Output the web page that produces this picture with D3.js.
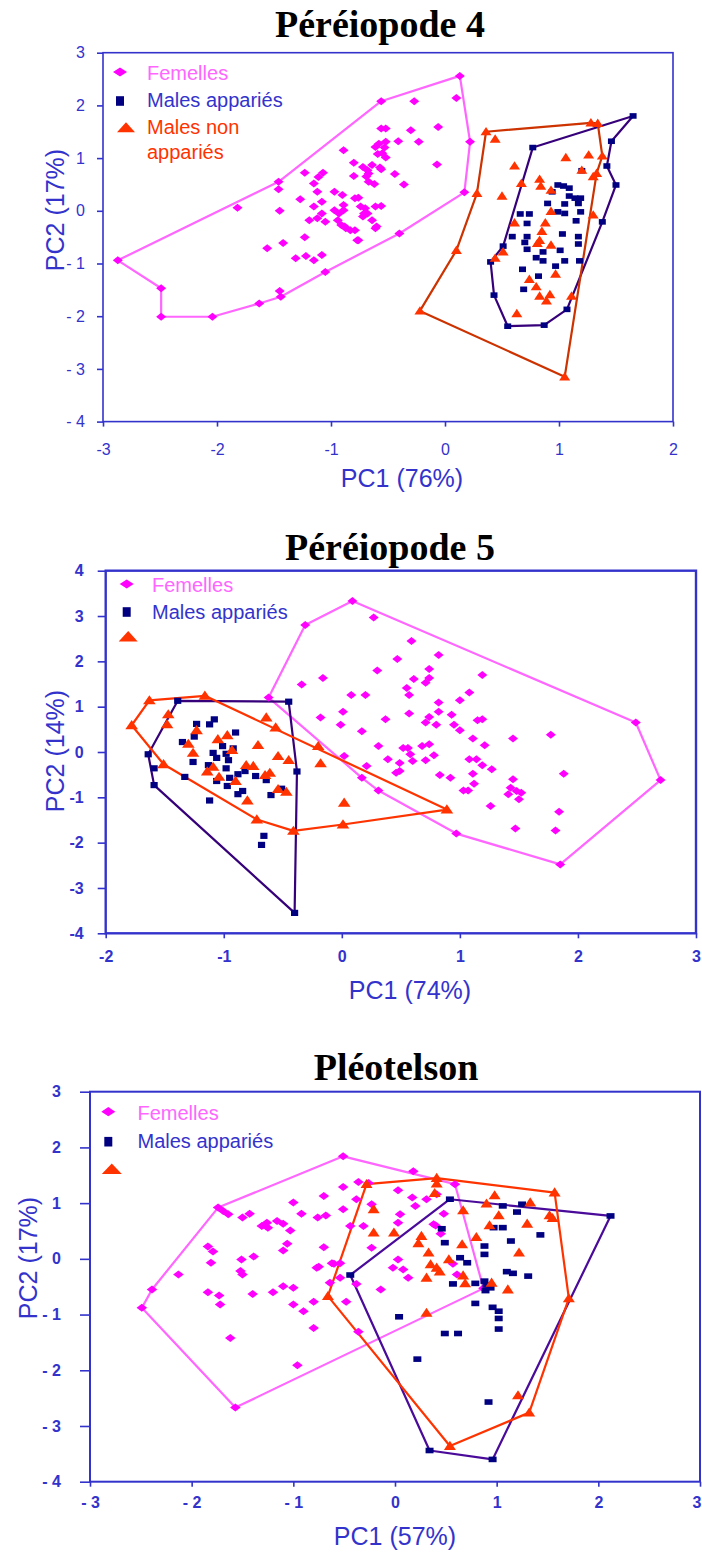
<!DOCTYPE html>
<html>
<head>
<meta charset="utf-8">
<script src="https://cdn.jsdelivr.net/npm/d3@7"></script>
<style>
  body { margin: 0; background: #fff; }
  svg { display: block; }
</style>
</head>
<body>
<svg id="fig" width="702" height="1553"></svg>
<script>
// ---------- Péréiopode 4 : PC1 / PC2 scores ----------
const p4FemellesHull = [[-2.87,-0.94],[-2.49,-1.47],[-2.49,-2.01],[-2.04,-2.01],[-1.63,-1.76],[-1.44,-1.63],[-1.05,-1.16],[-0.40,-0.43],[0.17,0.35],[0.22,1.31],[0.13,2.56],[-0.56,2.08],[-1.46,0.55]];
const p4Femelles = [[-1.82,0.06],[-1.46,0.41],[-1.45,0.0],[-1.42,-0.61],[-1.56,-0.71],[-1.23,0.72],[-1.27,0.22],[-1.23,-0.50],[-1.31,-0.90],[-1.22,-0.86],[-1.15,-0.94],[-1.08,-0.84],[-1.15,0.52],[-1.11,0.64],[-1.07,0.72],[-1.12,0.36],[-1.15,0.08],[-1.08,0.17],[-1.19,-0.18],[-1.12,-0.14],[-1.08,-0.05],[-1.05,-0.21],[-0.97,0.36],[-0.90,0.30],[-0.89,1.15],[-0.80,0.91],[-0.80,0.66],[-0.97,0.01],[-0.89,0.11],[-0.89,0.01],[-0.94,-0.18],[-0.91,-0.27],[-0.87,-0.33],[-0.83,-0.37],[-0.79,-0.37],[-0.79,0.24],[-0.76,-0.56],[-0.72,0.83],[-0.68,0.77],[-0.64,0.87],[-0.67,0.71],[-0.69,0.65],[-0.67,0.55],[-0.62,0.51],[-0.74,0.08],[-0.71,-0.05],[-0.64,-0.18],[-0.61,-0.33],[-0.72,-0.11],[-0.56,0.79],[-0.56,0.09],[-0.61,1.21],[-0.58,1.27],[-0.52,1.31],[-0.56,1.56],[-0.52,1.56],[-0.55,1.09],[-0.52,1.01],[-0.27,2.08],[0.10,2.14],[-0.30,1.53],[-0.06,1.59],[-0.23,1.31],[-0.41,1.32],[-0.07,0.88],[-0.44,0.70],[-0.36,0.50],[-0.57,0.82],[-0.59,1.08],[-0.53,1.20],[-0.61,0.08],[-0.60,-0.30],[-0.76,0.25],[-0.68,-0.05],[-0.70,0.05],[-0.77,-0.56],[-0.93,-0.05],[-0.88,-0.30],[-1.45,-1.52]];
const p4AppariesHull = [[1.65,1.80],[1.46,1.32],[1.42,0.85],[1.50,0.49],[1.38,-0.21],[1.07,-1.87],[0.87,-2.17],[0.55,-2.19],[0.43,-1.60],[0.40,-0.97],[0.51,-0.67],[0.77,1.20]];
const p4Apparies = [[0.94,0.36],[0.99,0.49],[1.04,0.47],[1.09,0.43],[1.09,0.28],[1.14,0.24],[1.19,0.24],[1.17,0.14],[0.90,0.14],[1.05,0.13],[1.19,-0.02],[0.66,-0.06],[0.74,-0.06],[0.99,-0.02],[1.05,-0.05],[1.15,-0.19],[0.72,-0.24],[1.03,-0.44],[1.17,-0.49],[1.17,-0.63],[0.59,-0.49],[0.72,-0.49],[0.70,-0.60],[0.72,-0.73],[0.86,-0.78],[0.80,-0.89],[0.86,-0.95],[1.01,-0.75],[1.05,-0.95],[1.18,-0.95],[0.97,-1.05],[0.68,-1.11],[0.82,-1.24],[0.69,-1.49],[1.20,0.76]];
const p4NonHull = [[0.36,1.50],[1.28,1.67],[1.34,1.66],[1.38,1.04],[1.33,0.71],[1.05,-3.15],[-0.22,-1.90],[0.10,-0.75],[0.28,0.33]];
const p4Non = [[0.44,1.36],[0.61,0.85],[1.06,1.01],[1.26,1.06],[1.20,0.77],[1.30,0.65],[0.67,0.52],[0.83,0.60],[0.84,0.47],[0.93,0.39],[0.50,0.28],[0.93,-0.01],[1.30,-0.08],[0.61,-0.23],[0.88,-0.23],[0.85,-0.39],[0.83,-0.56],[0.81,-0.62],[0.93,-0.65],[0.51,-0.78],[0.44,-0.90],[0.97,-1.20],[0.74,-1.30],[0.80,-1.44],[0.83,-1.62],[0.92,-1.59],[0.89,-1.71],[1.11,-1.62],[0.63,-1.95]];

// ---------- Péréiopode 5 ----------
const p5FemellesHull = [[0.09,3.33],[2.49,0.65],[2.70,-0.62],[1.85,-2.48],[0.97,-1.80],[0.31,-0.85],[0.17,-0.57],[-0.62,1.20],[-0.31,2.80]];
const p5Femelles = [[0.27,2.97],[0.59,2.45],[0.82,2.14],[0.47,2.05],[0.30,1.80],[0.74,1.83],[0.61,1.61],[0.74,1.63],[0.71,1.53],[0.55,1.41],[0.57,1.26],[-0.34,1.49],[-0.16,1.63],[0.08,1.26],[0.20,1.26],[1.19,1.70],[1.08,1.31],[1.00,1.14],[0.82,1.09],[0.01,0.89],[-0.18,0.76],[-0.01,0.60],[0.37,0.72],[0.57,0.85],[0.74,0.77],[0.82,0.89],[0.71,0.65],[0.80,0.60],[0.93,0.82],[0.95,0.60],[1.00,0.48],[1.15,0.70],[1.19,0.72],[0.17,0.46],[0.31,0.13],[0.52,0.09],[0.56,0.09],[0.58,-0.05],[0.68,0.13],[0.74,0.17],[0.78,-0.07],[0.39,-0.16],[0.49,-0.24],[0.60,-0.20],[0.71,-0.18],[0.02,-0.09],[0.21,-0.31],[0.46,-0.46],[0.49,-0.42],[0.83,-0.51],[0.92,-0.57],[1.11,0.30],[1.21,0.15],[1.08,-0.16],[1.14,-0.16],[1.19,-0.29],[1.11,-0.48],[1.12,-0.70],[1.03,-0.85],[1.07,-0.85],[1.45,0.30],[1.77,0.38],[1.27,-0.38],[1.45,-0.60],[1.43,-0.79],[1.48,-0.86],[1.52,-0.90],[1.50,-1.04],[1.41,-0.93],[1.88,-0.48],[1.26,-1.19],[1.84,-1.32],[1.47,-1.69],[1.81,-1.73]];
const p5AppariesHull = [[-1.39,1.13],[-0.45,1.11],[-0.38,-0.43],[-0.40,-3.55],[-1.59,-0.73],[-1.64,-0.05]];
const p5Apparies = [[-1.23,0.62],[-1.08,0.72],[-1.12,0.61],[-1.25,0.34],[-1.35,0.22],[-0.90,0.43],[-1.09,-0.02],[-1.06,-0.13],[-1.01,0.13],[-0.92,0.08],[-0.98,-0.04],[-0.96,-0.18],[-1.26,-0.22],[-1.13,-0.29],[-0.98,-0.36],[-1.59,-0.36],[-1.33,-0.55],[-1.06,-0.64],[-0.95,-0.57],[-0.88,-0.49],[-0.82,-0.42],[-0.73,-0.53],[-0.97,-0.75],[-0.88,-0.93],[-0.84,-0.86],[-0.64,-0.62],[-0.60,-0.95],[-0.51,-0.81],[-1.12,-1.07],[-0.66,-1.85],[-0.68,-2.05]];
const p5NonHull = [[-1.78,0.59],[-1.63,1.14],[-1.16,1.24],[0.89,-1.27],[0.01,-1.60],[-0.41,-1.74],[-0.72,-1.49],[-1.51,-0.27]];
const p5Non = [[-1.47,0.83],[-1.48,0.61],[-1.23,0.48],[-1.30,0.18],[-1.26,-0.02],[-1.05,0.28],[-0.97,0.37],[-0.93,0.04],[-1.14,-0.43],[-1.09,-0.33],[-1.04,-0.55],[-0.90,-0.64],[-0.81,-0.29],[-0.75,-0.31],[-0.80,-1.07],[-0.65,-0.51],[-0.61,-0.46],[-0.71,0.15],[-0.64,0.76],[-0.56,0.54],[-0.54,-0.09],[-0.45,-0.18],[-0.54,-0.82],[-0.47,-0.88],[-0.20,0.13],[-0.18,-0.25],[0.02,-1.12]];

// ---------- Pléotelson ----------
const plFemellesHull = [[-0.51,1.84],[0.59,1.34],[0.87,-0.53],[-1.57,-2.67],[-2.49,-0.88],[-2.39,-0.55],[-1.74,0.92]];
const plFemelles = [[-1.69,0.86],[-1.64,0.80],[-1.50,0.74],[-1.43,0.81],[-1.31,0.59],[-1.25,0.56],[-1.26,0.65],[-1.16,0.68],[-1.10,0.63],[-1.00,1.01],[-0.92,0.81],[-1.03,0.51],[-0.70,1.13],[-0.51,1.29],[-0.76,0.74],[-0.68,0.78],[-0.51,0.89],[-0.38,1.07],[-0.36,1.38],[-0.26,1.36],[-0.44,0.59],[-0.31,0.59],[-1.84,0.22],[-1.79,0.13],[-1.81,-0.07],[-2.13,-0.28],[-1.51,-0.01],[-1.39,0.04],[-1.52,-0.22],[-1.50,-0.28],[-1.06,0.27],[-1.10,0.15],[-0.70,0.21],[-1.84,-0.60],[-1.73,-0.66],[-1.72,-0.82],[-1.40,-0.63],[-1.20,-0.60],[-1.10,-0.49],[-1.00,-0.52],[-1.00,-0.82],[-0.90,-0.94],[-0.80,-0.77],[-0.75,-0.14],[-0.62,-0.08],[-0.54,-0.08],[-0.64,-0.43],[-0.54,-0.34],[-0.38,-0.45],[-0.48,-0.77],[-0.80,-1.24],[-0.36,-1.31],[-1.62,-1.42],[-0.96,-1.91],[-0.23,0.98],[0.03,1.23],[0.18,1.57],[0.17,1.10],[0.31,1.07],[0.20,0.95],[0.05,0.80],[0.03,0.65],[0.41,1.16],[0.38,0.62],[-0.23,0.20],[-0.60,-0.09],[-0.77,-0.16],[0.03,-0.01],[-0.02,-0.16],[0.08,-0.19],[0.13,-0.34],[-0.14,-0.55],[0.48,0.81],[0.40,0.60],[0.45,0.45],[0.57,-0.09],[0.61,-0.28]];
const plAppariesHull = [[0.54,1.07],[2.12,0.77],[0.96,-3.60],[0.34,-3.44],[-0.44,-0.29]];
const plApparies = [[1.06,0.95],[1.20,0.84],[1.25,0.98],[0.97,0.56],[1.06,0.56],[1.43,0.43],[0.46,0.54],[0.49,0.29],[1.14,0.32],[0.88,0.23],[0.88,0.08],[0.64,0.02],[0.71,-0.07],[1.10,-0.23],[1.16,-0.26],[1.31,-0.31],[0.57,-0.45],[0.79,-0.44],[0.88,-0.40],[0.90,-0.47],[0.94,-0.52],[0.89,-0.57],[0.79,-0.80],[0.96,-0.87],[1.02,-0.94],[1.02,-1.07],[1.02,-1.26],[0.04,-1.04],[0.49,-1.34],[0.62,-1.34],[0.22,-1.80],[0.92,-2.57]];
const plNonHull = [[-0.28,1.34],[0.41,1.45],[1.57,1.19],[1.71,-0.71],[1.32,-2.76],[0.54,-3.36],[-0.66,-0.67]];
const plNon = [[0.41,1.35],[0.39,1.18],[0.98,1.14],[0.90,0.99],[1.33,1.01],[1.52,0.78],[1.55,0.73],[1.02,0.78],[0.67,0.87],[0.93,0.60],[1.30,0.63],[0.80,0.39],[0.66,0.26],[1.22,0.11],[-0.01,0.47],[0.26,0.41],[0.23,0.28],[0.33,0.11],[0.35,-0.10],[0.41,-0.16],[0.44,-0.23],[0.53,-0.01],[0.31,-0.34],[0.67,-0.30],[0.69,-0.44],[0.95,-0.43],[1.11,-0.55],[0.31,-0.97],[1.21,-2.45],[-0.21,0.89],[-0.21,0.47]];

// ---------- labels ----------
const panelTitles = ["Péréiopode 4", "Péréiopode 5", "Pléotelson"];
const xAxisTitles = ["PC1 (76%)", "PC1 (74%)", "PC1 (57%)"];
const yAxisTitles = ["PC2 (17%)", "PC2 (14%)", "PC2 (17%)"];
const legendLabels = ["Femelles", "Males appariés", "Males non", "appariés"];
const xTicks = [[-3,-2,-1,0,1,2], [-2,-1,0,1,2,3], [-3,-2,-1,0,1,2,3]];
const yTicks = [[-4,-3,-2,-1,0,1,2,3], [-4,-3,-2,-1,0,1,2,3,4], [-4,-3,-2,-1,0,1,2,3]];

// ---------- styling ----------
const AXIS = "#3333cc";
const PINK_MARK = "#ff00ff", PINK_LINE = "#ff66ff", PINK_TEXT = "#ff66ff";
const NAVY = "#000080";
const ORANGE = "#ff3300";

const svg = d3.select("#fig");

const shapes = {
  diamond: (w, h) => `M0,${-h}L${w},0L0,${h}L${-w},0Z`,
  square: (w, h) => `M${-w},${-h}H${w}V${h}H${-w}Z`,
  triangle: (w, h) => `M0,${-h}L${w},${h * 0.75}L${-w},${h * 0.75}Z`
};

const gapFmt = d => d < 0 ? "- " + (-d) : String(d);

const panels = [
  {
    frame: [103, 52.7, 673, 421.6], xDom: [-3, 2], yDom: [-4, 3], frameW: 1.6,
    bold: false, fs: 16, xFmt: d => String(d), yFmt: gapFmt,
    xTick: 5, xPad: 17, yTick: 6, yPad: 12,
    titleY: 37, titleX: 380,
    xTitleX: 402, xTitleY: 487, yTitleX: 64, yTitleY: 210,
    groups: [
      { hull: p4FemellesHull, pts: p4Femelles, shape: "diamond", mw: 5, mh: 4, fill: PINK_MARK, line: PINK_LINE },
      { hull: p4AppariesHull, pts: p4Apparies, shape: "square", mw: 3.5, mh: 2.8, fill: NAVY, line: "#36007a" },
      { hull: p4NonHull, pts: p4Non, shape: "triangle", mw: 5.5, mh: 4.8, fill: ORANGE, line: "#cc3300" }
    ],
    legend: { x: 120, textX: 147, rows: [
      { shape: "diamond", w: 7, h: 4.6, cy: 72, fill: PINK_MARK, text: [legendLabels[0]], color: PINK_TEXT, base: [80] },
      { shape: "square", w: 4, h: 4.8, cy: 101, fill: NAVY, text: [legendLabels[1]], color: AXIS, base: [107] },
      { shape: "triangle", w: 9, h: 5.8, cy: 128, dx: 6, fill: ORANGE, text: [legendLabels[2], legendLabels[3]], color: ORANGE, base: [134, 159] }
    ], fs: 20 }
  },
  {
    frame: [105.7, 570.7, 696, 933.3], xDom: [-2, 3], yDom: [-4, 4], frameW: 2.4,
    bold: true, fs: 16, xFmt: d => String(d), yFmt: d => String(d),
    xTick: 5, xPad: 12, yTick: 8, yPad: 14,
    titleY: 560, titleX: 390,
    xTitleX: 410, xTitleY: 999, yTitleX: 64, yTitleY: 751,
    groups: [
      { hull: p5FemellesHull, pts: p5Femelles, shape: "diamond", mw: 5, mh: 4, fill: PINK_MARK, line: PINK_LINE },
      { hull: p5AppariesHull, pts: p5Apparies, shape: "square", mw: 3.6, mh: 3.1, fill: NAVY, line: "#36007a" },
      { hull: p5NonHull, pts: p5Non, shape: "triangle", mw: 6.3, mh: 5.2, fill: ORANGE, line: ORANGE }
    ],
    legend: { x: 126.7, textX: 152, rows: [
      { shape: "diamond", w: 7, h: 4.6, cy: 584, fill: PINK_MARK, text: [legendLabels[0]], color: PINK_TEXT, base: [592] },
      { shape: "square", w: 4, h: 4.8, cy: 612, fill: NAVY, text: [legendLabels[1]], color: AXIS, base: [619] },
      { shape: "triangle", w: 9.5, h: 6, cy: 637, dx: 1.5, fill: ORANGE, text: [], color: ORANGE, base: [] }
    ], fs: 20 }
  },
  {
    frame: [90, 1091.7, 700, 1481.7], xDom: [-3, 3], yDom: [-4, 3], frameW: 2,
    bold: true, fs: 16, xFmt: gapFmt, yFmt: gapFmt,
    xTick: 5, xPad: 10, yTick: 10, yPad: 19,
    titleY: 1080, titleX: 396,
    xTitleX: 395, xTitleY: 1545, yTitleX: 37, yTitleY: 1258,
    groups: [
      { hull: plFemellesHull, pts: plFemelles, shape: "diamond", mw: 5.3, mh: 4, fill: PINK_MARK, line: PINK_LINE },
      { hull: plAppariesHull, pts: plApparies, shape: "square", mw: 4, mh: 2.8, fill: NAVY, line: "#4a0a9a" },
      { hull: plNonHull, pts: plNon, shape: "triangle", mw: 6, mh: 5.2, fill: ORANGE, line: ORANGE }
    ],
    legend: { x: 108.3, textX: 137.5, rows: [
      { shape: "diamond", w: 7, h: 4.6, cy: 1111.7, fill: PINK_MARK, text: [legendLabels[0]], color: PINK_TEXT, base: [1120] },
      { shape: "square", w: 4, h: 4.8, cy: 1141.7, fill: NAVY, text: [legendLabels[1]], color: AXIS, base: [1148] },
      { shape: "triangle", w: 10, h: 6, cy: 1169.5, dx: 3.5, fill: ORANGE, text: [], color: ORANGE, base: [] }
    ], fs: 20 }
  }
];

panels.forEach((p, i) => {
  const [fx0, fy0, fx1, fy1] = p.frame;
  const x = d3.scaleLinear().domain(p.xDom).range([fx0, fx1]);
  const y = d3.scaleLinear().domain(p.yDom).range([fy1, fy0]);
  const g = svg.append("g");

  // panel title
  g.append("text")
    .attr("x", p.titleX).attr("y", p.titleY)
    .attr("text-anchor", "middle")
    .attr("font-family", "'Liberation Serif', 'Times New Roman', serif")
    .attr("font-weight", "bold").attr("font-size", 38)
    .attr("fill", "#000")
    .text(panelTitles[i]);

  // axes
  const weight = p.bold ? "bold" : "normal";
  const xAxis = g.append("g").attr("transform", `translate(0,${fy1})`)
    .call(d3.axisBottom(x).tickValues(xTicks[i]).tickSize(p.xTick).tickPadding(p.xPad).tickFormat(p.xFmt));
  const yAxis = g.append("g").attr("transform", `translate(${fx0},0)`)
    .call(d3.axisLeft(y).tickValues(yTicks[i]).tickSize(p.yTick).tickPadding(p.yPad).tickFormat(p.yFmt));
  [xAxis, yAxis].forEach(a => {
    a.select(".domain").remove();
    a.selectAll(".tick line").attr("stroke", AXIS).attr("stroke-width", 1.6);
    a.selectAll(".tick text")
      .attr("fill", AXIS)
      .attr("font-family", "'Liberation Sans', Arial, sans-serif")
      .attr("font-size", p.fs).attr("font-weight", weight);
  });
  // keep the last x label inside the page edge
  xAxis.selectAll(".tick text")
    .filter(d => x(d) + 6 > 702)
    .attr("text-anchor", "end").attr("dx", 702 - x.range()[1] - 1);

  // plot frame
  g.append("rect")
    .attr("x", fx0).attr("y", fy0)
    .attr("width", fx1 - fx0).attr("height", fy1 - fy0)
    .attr("fill", "none").attr("stroke", AXIS).attr("stroke-width", p.frameW);

  // axis titles
  g.append("text")
    .attr("x", p.xTitleX).attr("y", p.xTitleY)
    .attr("text-anchor", "middle")
    .attr("font-family", "'Liberation Sans', Arial, sans-serif")
    .attr("font-size", 25).attr("fill", AXIS)
    .text(xAxisTitles[i]);
  g.append("text")
    .attr("transform", `translate(${p.yTitleX},${p.yTitleY}) rotate(-90)`)
    .attr("text-anchor", "middle")
    .attr("font-family", "'Liberation Sans', Arial, sans-serif")
    .attr("font-size", 25).attr("fill", AXIS)
    .text(yAxisTitles[i]);

  // group outlines
  const line = d3.line().x(d => x(d[0])).y(d => y(d[1]));
  p.groups.forEach(grp => {
    g.append("path")
      .attr("d", line(grp.hull) + "Z")
      .attr("fill", "none")
      .attr("stroke", grp.line)
      .attr("stroke-width", 2.2)
      .attr("stroke-linejoin", "round");
  });

  // individuals (outline vertices included)
  p.groups.forEach(grp => {
    g.append("g").selectAll("path")
      .data(grp.pts.concat(grp.hull))
      .join("path")
      .attr("transform", d => `translate(${x(d[0])},${y(d[1])})`)
      .attr("d", shapes[grp.shape](grp.mw, grp.mh))
      .attr("fill", grp.fill);
  });

  // legend
  const L = p.legend;
  L.rows.forEach(r => {
    g.append("path")
      .attr("transform", `translate(${L.x + (r.dx || 0)},${r.cy})`)
      .attr("d", shapes[r.shape](r.w, r.h))
      .attr("fill", r.fill);
    r.text.forEach((t, k) => {
      g.append("text")
        .attr("x", L.textX).attr("y", r.base[k])
        .attr("font-family", "'Liberation Sans', Arial, sans-serif")
        .attr("font-size", L.fs).attr("fill", r.color)
        .text(t);
    });
  });
});
</script>
</body>
</html>
